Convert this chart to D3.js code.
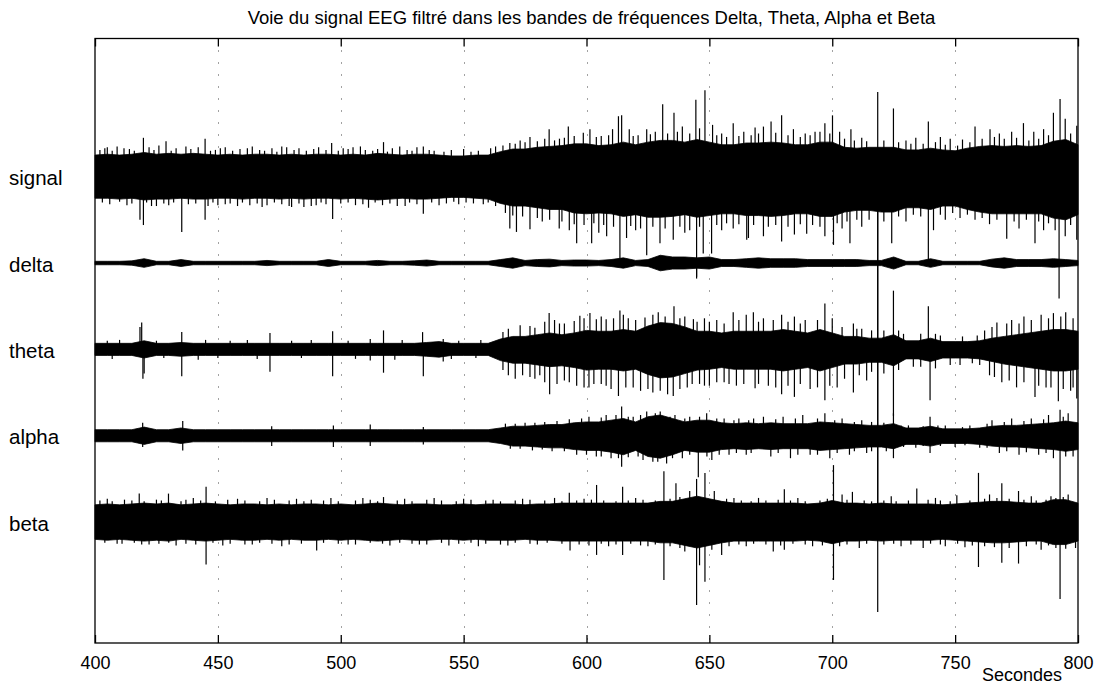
<!DOCTYPE html>
<html>
<head>
<meta charset="utf-8">
<script src="https://cdn.jsdelivr.net/npm/d3@7"></script>
<style>
  html, body { margin: 0; padding: 0; background: #fff; }
  svg { display: block; font-family: "Liberation Sans", Arial, Helvetica, sans-serif; }
</style>
</head>
<body>
<svg id="chart" width="1095" height="685"></svg>
<script>
// Channel names and their vertical stacking offsets (one unit step = 100)
const channels = ["signal", "delta", "theta", "alpha", "beta"];
const channelOffsets = [0, -100, -200, -300, -400];

// Time axis (seconds)
const xTicks = [400, 450, 500, 550, 600, 650, 700, 750, 800];
const xGridTicks = [450, 500, 550, 600, 650, 700, 750];
const sampleTimes = d3.range(400, 801, 5); // envelope samples every 5 s

// Amplitude envelopes (upper / lower) at each sample time
const signalUpper = [25,26,25,26,28,26,27,26,27,26,25,26,25,26,26,25,26,25,26,26,25,26,25,27,26,25,26,26,25,24,24,25,25,
  29,32,32,34,35,36,38,38,
  36,37,40,37,40,42,42,40,43,40,37,37,39,39,40,39,37,37,40,40,
  34,33,34,34,34,31,31,33,31,30,33,35,36,35,36,35,36,41,43,37];
const signalLower = [-25,-25,-26,-25,-27,-26,-26,-25,-26,-26,-25,-25,-26,-25,-25,-26,-25,-26,-25,-25,-26,-25,-26,-27,-26,-25,-26,-26,-25,-24,-24,-25,-26,
  -31,-34,-34,-36,-38,-38,-42,-43,
  -42,-43,-46,-44,-47,-47,-46,-44,-47,-45,-43,-43,-45,-45,-46,-45,-43,-43,-46,-46,
  -41,-39,-39,-41,-41,-36,-36,-38,-34,-34,-38,-41,-43,-43,-43,-43,-43,-48,-50,-44];

const deltaUpper = [2,2,2,2.5,5,2,2,4,2,2,2,2,2,2,3,2,2,2,2,4,2,2,2,3,2,2,2.5,3.5,2,2,2,2,2,
  4,6,3,4,4.5,3,3.5,3.5,
  3,4,6,3,4,9,7,7,6,7,4,4,5,6,5,5,5,4,4,4,
  4,4,3,3,7,2,2,5,2,2,2,2,4.5,6,4,4,4,5,4,3];
const deltaLower = deltaUpper.map(v => -v); // band-limited delta is symmetric about its baseline

const thetaUpper = [7,7,7,7,10,7,7,8,7,7,7,7,7,7,7,7,7,7,7,7,7,7,7,7,7,7,7,8,9,7,7,7,7,
  12,15,15,17,19,17,19,22,
  21,21,23,21,27,31,30,26,21,21,19,21,21,21,21,23,21,19,23,19,
  15,15,13,13,17,10,10,13,9,9,9,10,13,15,17,19,21,23,23,21];
const thetaLower = [-7,-7,-7,-7,-10,-7,-7,-8,-7,-7,-7,-7,-7,-7,-7,-7,-7,-7,-7,-7,-7,-7,-7,-7,-7,-7,-7,-8,-9,-7,-7,-7,-7,
  -13,-16,-16,-18,-20,-19,-21,-24,
  -23,-23,-25,-23,-29,-33,-32,-28,-24,-23,-21,-23,-23,-23,-23,-25,-23,-21,-25,-21,
  -17,-17,-15,-15,-19,-11,-11,-14,-10,-10,-10,-11,-14,-17,-19,-21,-23,-25,-25,-23];

const alphaUpper = [7,7,7,7,10,7,7,9,7,7,7,7,7,7,7,7,7,7,7,7,7,7,7,7,7,7,7,7,7,7,7,7,7,
  9,11,11,12,13,13,15,16,
  16,18,20,16,22,24,20,16,18,18,15,14,15,14,15,14,14,14,16,15,
  14,13,12,12,14,9,9,11,8,8,8,9,11,12,12,13,14,15,17,15];
const alphaLower = [-7,-7,-7,-7,-10,-7,-7,-9,-7,-7,-7,-7,-7,-7,-7,-7,-7,-7,-7,-7,-7,-7,-7,-7,-7,-7,-7,-7,-7,-7,-7,-7,-7,
  -9,-12,-12,-13,-14,-14,-16,-17,
  -17,-19,-22,-17,-24,-26,-22,-17,-19,-19,-16,-15,-16,-15,-16,-15,-15,-15,-17,-16,
  -15,-14,-13,-13,-15,-10,-10,-12,-9,-9,-9,-10,-12,-13,-13,-14,-15,-16,-18,-16];

const betaUpper = [20,21,20,21,22,21,22,20,21,22,21,20,21,21,20,21,20,21,21,20,21,20,21,22,21,20,21,21,20,20,21,20,21,
  21,21,20,21,21,22,22,22,
  22,22,22,22,22,24,24,27,30,27,24,22,22,22,22,22,22,21,22,25,
  22,22,21,22,21,21,21,21,20,21,22,23,24,24,23,22,22,26,26,22];
const betaLower = betaUpper.map(v => -v);

// Isolated spikes per channel: [time in s, amplitude]
const signalSpikes = [
  [405,34],[411.8,33],[419.7,45],[428.9,41],[437,35],[444.8,44],[453,34],[462,33],[476,35],[483,33],[496.3,39],[505,34],[517.4,40],[524,35],[533.6,35],
  [568.8,39],[573,42],[577,46],[584.8,55],[589,44],[592.6,58],[598.7,51],[601.4,55],[606,47],[610.6,55],[613,70],[614.3,71],[617.4,55],[621,48],[624.5,55],[628,52],[631,84],[635.6,74],[639,58],[644.5,89],[648.2,100],[651.3,60],[655,50],[659.7,62],[664,52],[668.6,57],
  [672,58],[675.1,64],[679.4,71],[684.2,55],[689,50],[693,52],[697,62],[700.1,71],[703,52],[707.6,55],[712,45],[718.5,98],[724.9,79],[730,42],[734,45],[739.1,64],[744,46],[748,44],[753,43],[758.1,58],[764.2,55],[768,50],[773,52],[777.8,62],[782,52],[786,55],[790,74],[792.7,90],[794.8,67],[799.5,59],
  [418.3,-50],[419.7,-56],[425,-34],[435.3,-64],[444.8,-50],[450,-33],[458,-34],[470,-33],[480,-35],[488,-34],[496.7,-49],[511.3,-36],[526.2,-34],[533.6,-43],
  [540,-33],[548,-32],[558,-32],[568.8,-60],[571.5,-64],[577,-61],[582,-52],[588.9,-60],[593,-62],[596,-77],[602.1,-77],[605,-65],[608.2,-69],[613.6,-100],[616.3,-71],[620,-62],[624.5,-91],[629.9,-77],[635.3,-73],[640,-65],[644.8,-116],[647.5,-89],[650.9,-89],[655,-62],[659.7,-60],[665.2,-73],
  [665.9,-71],[672,-69],[679.4,-75],[684.6,-67],[689.6,-66],[697,-69],[700.5,-79],[704,-60],[707.2,-77],[712,-58],[718.5,-100],[724.2,-77],[730,-52],[739.1,-97],[741.2,-62],[746,-50],[752,-48],[758.1,-50],[764,-55],[771,-72],[776,-60],[782.5,-77],[786,-62],[790.7,-62],[792.3,-100],[794.8,-69],[799.5,-73]
];
// Smaller fringe hairs along the signal trace
const signalHairs = [
  [402,31],[404,33],[407,30],[409,35],[414,32],[416,30],[422,34],[424,31],[426,36],[431,30],[433,33],[439,32],[442,34],[447,30],[449,31],[451,33],[456,30],[459,32],[464,35],[467,31],[469,30],[472,33],[474,29],[478,34],[481,31],[486,30],[489,32],[491,34],[494,31],[499,30],[501,33],[503,32],[508,35],[510,31],[513,30],[515,32],[519,29],[521,33],[527,31],[529,30],[531,34],[536,31],[538,30],[542,29],[545,31],[550,32],[553,29],[556,30],[561,33],[563,35],
  [403,-30],[406,-32],[410,-29],[413,-33],[415,-31],[421,-30],[423,-34],[428,-31],[430,-33],[432,-30],[438,-32],[441,-31],[446,-34],[448,-30],[453,-32],[455,-31],[460,-30],[463,-33],[466,-31],[468,-35],[473,-30],[476,-32],[479,-34],[483,-31],[485,-35],[490,-33],[492,-30],[494,-32],[500,-31],[503,-30],[506,-33],[509,-32],[514,-30],[517,-33],[520,-31],[523,-34],[528,-30],[531,-32],[537,-30],[543,-31],[546,-29],[551,-30],[554,-31],[560,-30],[563,-34],
  [566,36],[571,38],[575,40],[580,41],[583,44],[587,42],[591,45],[595,47],[604,46],[609,48],[619,47],[626,49],[633,50],[637,52],[642,50],[646,56],[653,48],[657,46],[662,47],[667,48],[670,50],[677,51],[682,48],[687,46],[691,48],[695,52],[699,50],[705,44],[709,42],[714,41],[721,42],[727,40],[732,38],[737,38],[742,40],[746,37],[751,36],[756,40],[761,44],[766,46],[770,44],[775,45],[780,42],[784,44],[788,48],[797,50],
  [567,-42],[570,-45],[574,-46],[580,-48],[585,-50],[590,-52],[595,-55],[599,-56],[603,-54],[607,-56],[611,-58],[618,-57],[622,-60],[627,-58],[632,-60],[638,-58],[642,-62],[646,-58],[653,-56],[657,-54],[662,-55],[668,-56],[674,-58],[677,-56],[682,-58],[687,-55],[692,-56],[695,-58],[702,-54],[706,-52],[710,-50],[715,-50],[721,-52],[727,-46],[733,-44],[736,-46],[744,-44],[749,-42],[755,-44],[761,-48],[767,-50],[774,-52],[779,-50],[784,-52],[788,-54],[797,-56]
];
const deltaSpikes = [[644.8,-18],[718.5,100],[718.5,-98],[792.3,-41]];
const thetaSpikes = [
  [418.3,26],[419,31],[419.5,-34],[420,-28],[435.3,20],[435.3,-31],[471.2,19],[471.2,-26],[496.7,21],[496.7,-31],[512,12],[512,-13],[517.4,22],[517.4,-27],[533.3,20],[533.6,-31],[541.7,12],[541.7,-14],
  [568.2,24],[568.2,-30],[571,-34],[577,27],[577,-32],[581,-30],[584.8,42],[585,-52],[589,30],[593,-38],[597.3,39],[599,-44],[601.4,42],[603,-40],[608,35],[608,-42],[613.6,45],[613,-54],[617,36],[619,-44],[623.8,37],[625,-46],[629.2,43],[630,-48],[635.6,50],[635.3,-54],[640,38],[641,-44],[643.5,35],[646,-40],[650,32],[650,-42],[653,34],[656,-38],[659.7,43],[661,-42],[665,40],[667.9,43],[668.6,-45],
  [672,36],[674,-42],[679.4,40],[679.4,-52],[684.6,38],[684.6,-55],[689,34],[691,-46],[697,53],[697,-59],[700,36],[702,-44],[708.6,30],[708.6,-50],[712,24],[714,-36],[718.5,100],[718.5,-103],[724.9,68],[724.9,-77],[729,18],[733,-20],[739.1,50],[739.8,-59],[744,16],[748,-18],[753,15],[757,-16],[762,22],[764,-30],[767,31],[769,-38],[773,34],[775,-44],[778,38],[782.5,-55],[785,40],[787,-44],[790,42],[792,-60],[795,43],[797,-48],[799.5,-57]
];
const thetaHairs = [
  [405,10],[410,11],[425,10],[445,11],[455,10],[462,11],[480,10],[488,11],[503,10],[525,11],[548,10],[557,11],
  [407,-11],[428,-10],[442,-12],[450,-10],[466,-11],[484,-10],[506,-11],[522,-12],[545,-11],[555,-10],
  [566,20],[573,28],[579,25],[583,32],[587,34],[591,30],[595,33],[599,36],[604,35],[606,38],[611,36],[615,40],[620,34],[627,40],[632,38],[638,36],[645,32],[648,36],[656,30],[662,34],[670,32],[676,34],[682,32],[687,30],[694,34],[704,26],[710,24],[716,22],[721,22],[727,22],[736,18],[742,18],[759,16],[765,26],[771,30],[776,30],[781,34],[788,36],[793,38],[798,36],
  [566,-24],[574,-30],[579,-34],[583,-38],[588,-40],[591,-36],[596,-42],[601,-44],[606,-40],[610,-46],[616,-44],[622,-48],[627,-50],[633,-52],[638,-46],[643,-40],[648,-42],[653,-38],[658,-40],[664,-40],[670,-40],[677,-44],[682,-42],[687,-40],[694,-44],[699,-42],[705,-34],[711,-30],[716,-26],[721,-28],[727,-24],[736,-20],[742,-22],[752,-18],[760,-18],[766,-32],[772,-36],[778,-38],[784,-42],[789,-44],[794,-46],[798,-44]
];
const alphaSpikes = [
  [419.4,15],[419.4,-13],[435.7,17],[435.7,-17],[471.9,11],[471.9,-12],[497,12],[497,-13],[512,13],[512,-12],[533.6,10],[533.6,-10],
  [567,14],[569,-15],[575,15],[578,-17],[583,16],[586,-18],[593,19],[596,-22],[601,22],[604,-24],[608,24],[610,-26],[614.3,34],[614.3,-36],[619,22],[621,-24],[624.5,28],[627,-30],[630,28],[632.6,-32],[636,24],[639,-26],[642,22],[645.5,-48],[648.9,26],[651,-28],[656,20],[658,-22],[662,20],[665,-22],[668,20],
  [672,22],[675,-24],[680,22],[683,-26],[688,24],[691,-22],[697,26],[699,-26],[704,20],[707,-22],[712,18],[714,-20],[718.5,100],[718.5,-100],[724.9,26],[724.9,-26],[731,12],[734,-14],[739.8,22],[739.8,-20],[746,12],[750,-13],[756,12],[760,-14],[765,18],[768,-20],[773,20],[776,-22],[781,20],[784,-22],[788,24],[790,-26],[792.7,30],[792.7,-50],[796,26],[798,-24]
];
const alphaHairs = [
  [571,14],[579,15],[588,17],[598,20],[606,21],[612,24],[617,22],[622,24],[628,26],[634,22],[640,20],[646,22],[653,20],[660,18],[666,18],[677,19],[685,20],[694,20],[701,18],[709,16],[716,16],[721,15],[728,12],[737,11],[743,12],[753,10],[763,14],[770,16],[778,17],[786,19],[794,22],
  [573,-15],[582,-16],[591,-18],[600,-22],[606,-24],[613,-26],[617,-25],[623,-28],[629,-30],[635,-26],[642,-22],[649,-24],[654,-22],[661,-20],[667,-20],[678,-20],[686,-22],[694,-22],[702,-20],[709,-18],[716,-18],[722,-18],[729,-13],[737,-12],[744,-12],[754,-11],[763,-14],[771,-18],[779,-19],[787,-20],[795,-24]
];
const betaSpikes = [
  [405,27],[409,-25],[418,33],[422,-26],[429.9,33],[433,-27],[440,28],[445.2,41],[445.2,-49],[452,-27],[458,27],[464,-26],[470,28],[476,-28],[482,27],[490.2,-33],[496,28],[503,-26],[509,28],[517.4,29],[520,-27],[526,27],[532,-26],
  [538,28],[544,-27],[550,27],[556,-28],[562,26],[568,-27],[574,27],[580,-26],[587,28],[593,34],[593.3,-33],[599,27],[604.1,43],[604.1,-38],[609,-28],[614.7,41],[614.7,-38],[620,28],[625,-28],[631.5,59],[631.5,-67],[636.4,45],[640,-34],[642,36],[644.8,50],[644.8,-96],[646,-50],[648.2,57],[648.2,-69],[652,36],[655,-38],[660,28],[665,-28],
  [670,28],[676,-34],[680.5,38],[680.5,-32],[686,28],[692,-28],[700.5,66],[700.5,-67],[704,32],[708.2,35],[711,-30],[718.5,100],[718.5,-104],[724,30],[728,-28],[734.4,39],[737,-30],[742,28],[746,-28],[750.7,31],[754,-29],[759.5,57],[759.5,-52],[764,32],[769,45],[769,-47],[775.8,36],[775.8,-48],[781,30],[785,-32],[789,30],[792.7,50],[792.7,-89],[796,32],[799,-30]
];
const betaHairs = [
  [402,25],[407,24],[412,26],[415,25],[420,24],[425,26],[427,25],[435,24],[437,26],[443,25],[449,24],[454,26],[461,25],[467,24],[473,26],[479,25],[485,24],[488,26],[493,25],[499,24],[506,25],[512,26],[515,24],[523,25],[529,24],[535,26],[541,25],[547,24],[553,26],[559,25],[565,24],[571,25],[577,26],[583,25],[590,24],[596,25],[602,26],[607,25],[612,24],[617,25],[623,26],[628,25],[634,27],[638,29],[657,27],[663,25],[667,24],[673,25],[678,26],[683,25],[689,24],[695,25],[698,27],[706,26],[713,25],[716,24],[721,25],[726,24],[731,25],[739,26],[744,25],[748,24],[756,25],[762,27],[767,28],[772,27],[778,26],[783,25],[787,26],[791,28],[794,29],
  [404,-24],[411,-25],[416,-24],[419,-26],[426,-25],[430,-24],[437,-25],[441,-26],[448,-24],[455,-25],[461,-26],[467,-24],[472,-25],[479,-26],[484,-25],[493,-24],[499,-25],[506,-26],[512,-24],[517,-25],[524,-24],[529,-25],[535,-26],[541,-24],[548,-25],[553,-24],[559,-25],[565,-26],[571,-24],[577,-25],[584,-24],[590,-25],[597,-26],[601,-27],[606,-25],[612,-26],[618,-25],[622,-27],[628,-26],[634,-28],[638,-30],[651,-32],[658,-28],[662,-26],[668,-25],[673,-26],[679,-27],[684,-25],[689,-26],[696,-27],[703,-28],[706,-26],[714,-25],[721,-26],[725,-25],[732,-26],[740,-25],[744,-26],[751,-25],[757,-27],[762,-28],[766,-29],[772,-30],[779,-28],[783,-26],[788,-27],[791,-30],[795,-31]
];

const envelopes = {
  signal: [signalUpper, signalLower], delta: [deltaUpper, deltaLower], theta: [thetaUpper, thetaLower],
  alpha: [alphaUpper, alphaLower], beta: [betaUpper, betaLower]
};
const spikes = {
  signal: signalSpikes.concat(signalHairs),
  delta: deltaSpikes,
  theta: thetaSpikes.concat(thetaHairs),
  alpha: alphaSpikes.concat(alphaHairs),
  beta: betaSpikes.concat(betaHairs)
};

const titleText = "Voie du signal EEG filtré dans les bandes de fréquences Delta, Theta, Alpha et Beta";
const xLabelText = "Secondes";

// ---- layout ----
const plotLeft = 95, plotRight = 1078, plotTop = 38.5, plotBottom = 643;
const svg = d3.select("#chart");

const x = d3.scaleLinear().domain([400, 800]).range([plotLeft, plotRight]);
const y = d3.scaleLinear().domain([-540, 160]).range([plotBottom, plotTop]);

// dotted vertical grid
svg.append("g")
  .selectAll("line")
  .data(xGridTicks)
  .join("line")
  .attr("x1", d => Math.round(x(d)) + 0.5).attr("x2", d => Math.round(x(d)) + 0.5)
  .attr("y1", plotTop).attr("y2", plotBottom)
  .attr("stroke", "#444").attr("stroke-width", 1)
  .attr("stroke-dasharray", "1,11");

// traces: filled amplitude band plus individual excursions
const traces = svg.append("g");
channels.forEach((name, ci) => {
  const off = channelOffsets[ci];
  const [up, lo] = envelopes[name];
  const band = d3.area()
    .x((d, i) => x(sampleTimes[i]))
    .y0((d, i) => y(off + lo[i]))
    .y1((d, i) => y(off + up[i]));
  traces.append("path")
    .datum(up)
    .attr("d", band)
    .attr("fill", "#000")
    .attr("stroke", "#000")
    .attr("stroke-width", 0.8)
    .attr("stroke-linejoin", "round");

  traces.append("g")
    .selectAll("line")
    .data(spikes[name])
    .join("line")
    .attr("x1", d => x(d[0])).attr("x2", d => x(d[0]))
    .attr("y1", y(off)).attr("y2", d => y(off + d[1]))
    .attr("stroke", "#000").attr("stroke-width", 1.2);
});

// box
svg.append("rect")
  .attr("x", plotLeft).attr("y", plotTop)
  .attr("width", plotRight - plotLeft).attr("height", plotBottom - plotTop)
  .attr("fill", "none").attr("stroke", "#000").attr("stroke-width", 1.3);

// bottom axis: inward ticks + labels
const xAxisB = svg.append("g")
  .attr("transform", `translate(0,${plotBottom})`)
  .call(d3.axisBottom(x).tickValues(xTicks).tickSize(-8).tickPadding(13).tickFormat(d3.format("d")));
xAxisB.select(".domain").remove();
xAxisB.selectAll(".tick line").attr("stroke", "#000").attr("stroke-width", 1.3);
xAxisB.selectAll("text").attr("font-size", 18).attr("fill", "#000").attr("font-family", null);

// top axis: inward ticks only
const xAxisT = svg.append("g")
  .attr("transform", `translate(0,${plotTop})`)
  .call(d3.axisTop(x).tickValues(xTicks).tickSize(-8).tickFormat(""));
xAxisT.select(".domain").remove();
xAxisT.selectAll(".tick line").attr("stroke", "#000").attr("stroke-width", 1.3);

// channel labels on the left
const yAxis = svg.append("g")
  .attr("transform", `translate(${plotLeft},0)`)
  .call(d3.axisLeft(y).tickValues(channelOffsets).tickSize(0)
    .tickFormat((d, i) => channels[i]));
yAxis.select(".domain").remove();
yAxis.selectAll("text")
  .attr("x", 9 - plotLeft)
  .attr("dy", "0.39em")
  .attr("text-anchor", "start")
  .attr("font-size", 20.5)
  .attr("fill", "#000")
  .attr("font-family", null);

// title and axis label
svg.append("text")
  .attr("x", 591.5).attr("y", 24.3)
  .attr("text-anchor", "middle").attr("font-size", 18.5)
  .text(titleText);

svg.append("text")
  .attr("x", 1022).attr("y", 681)
  .attr("text-anchor", "middle").attr("font-size", 18)
  .text(xLabelText);
</script>
</body>
</html>
